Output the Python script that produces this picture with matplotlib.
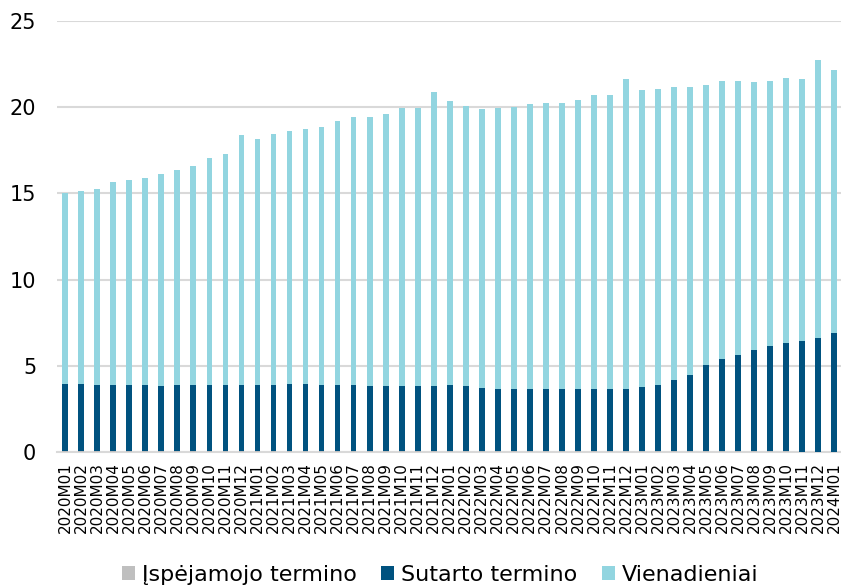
import matplotlib
matplotlib.use("Agg")
import matplotlib.pyplot as plt
import numpy as np

plt.rcParams['font.family'] = ['DejaVu Sans']

months = []
for y in range(2020, 2024):
    for m in range(1, 13):
        months.append(f"{y}M{m:02d}")
months.append("2024M01")

totals = [15.0, 15.12, 15.27, 15.66, 15.79, 15.87, 16.10, 16.36, 16.57, 17.03, 17.30, 18.37,
          18.18, 18.45, 18.59, 18.74, 18.86, 19.19, 19.42, 19.44, 19.61, 19.96, 19.98, 20.87,
          20.33, 20.04, 19.87, 19.98, 20.02, 20.17, 20.27, 20.25, 20.41, 20.70, 20.68, 21.61,
          20.97, 21.07, 21.16, 21.16, 21.26, 21.49, 21.49, 21.44, 21.53, 21.69, 21.65, 22.73,
          22.17]

ispejamojo = [0.07] * 46 + [0.0, 0.0, 0.0]

sutarto = [3.85, 3.85, 3.81, 3.81, 3.81, 3.81, 3.78, 3.81, 3.81, 3.81, 3.81, 3.81,
           3.81, 3.83, 3.86, 3.85, 3.81, 3.81, 3.81, 3.77, 3.76, 3.76, 3.75, 3.75,
           3.79, 3.73, 3.63, 3.61, 3.58, 3.58, 3.56, 3.56, 3.56, 3.56, 3.58, 3.61,
           3.68, 3.81, 4.09, 4.38, 4.97, 5.30, 5.58, 5.83, 6.07, 6.26, 6.45, 6.63,
           6.92]

vienadieniai = [t - s - i for t, s, i in zip(totals, sutarto, ispejamojo)]

c_grey = "#BFBFBF"
c_dark = "#00527F"
c_light = "#92D5E0"

fig = plt.figure(figsize=(8.41, 5.86), dpi=100)
ax = fig.add_axes([0.068, 0.2287, 0.932, 0.7355])

x = np.arange(len(months))
w = 0.36
b1 = ax.bar(x, ispejamojo, w, color=c_grey, label="Įspėjamojo termino", zorder=3)
b2 = ax.bar(x, sutarto, w, bottom=ispejamojo, color=c_dark, label="Sutarto termino", zorder=3)
bot3 = [a + b for a, b in zip(ispejamojo, sutarto)]
b3 = ax.bar(x, vienadieniai, w, bottom=bot3, color=c_light, label="Vienadieniai", zorder=3)

ax.set_ylim(0, 25)
ax.set_xlim(-0.5, 48.42)
ax.set_yticks([0, 5, 10, 15, 20, 25])
ax.yaxis.grid(True, color="#D9D9D9", linewidth=1.5, zorder=0)
ax.set_axisbelow(True)
for s in ["top", "right", "left"]:
    ax.spines[s].set_visible(False)
ax.spines["bottom"].set_color("#D9D9D9")
ax.spines["bottom"].set_linewidth(1.5)
ax.tick_params(axis="y", length=0, pad=15, labelsize=15)
ax.tick_params(axis="x", length=0, pad=7, labelsize=11)
ax.set_xticks(x)
ax.set_xticklabels(months, rotation=90)

fig.legend(handles=[b1, b2, b3], labels=["Įspėjamojo termino", "Sutarto termino", "Vienadieniai"],
           loc="lower center", bbox_to_anchor=(0.523, -0.032), ncol=3, frameon=False,
           fontsize=16, handlelength=0.6, handleheight=0.6, handletextpad=0.3,
           columnspacing=1.1)

fig.savefig("out.png", dpi=100)
